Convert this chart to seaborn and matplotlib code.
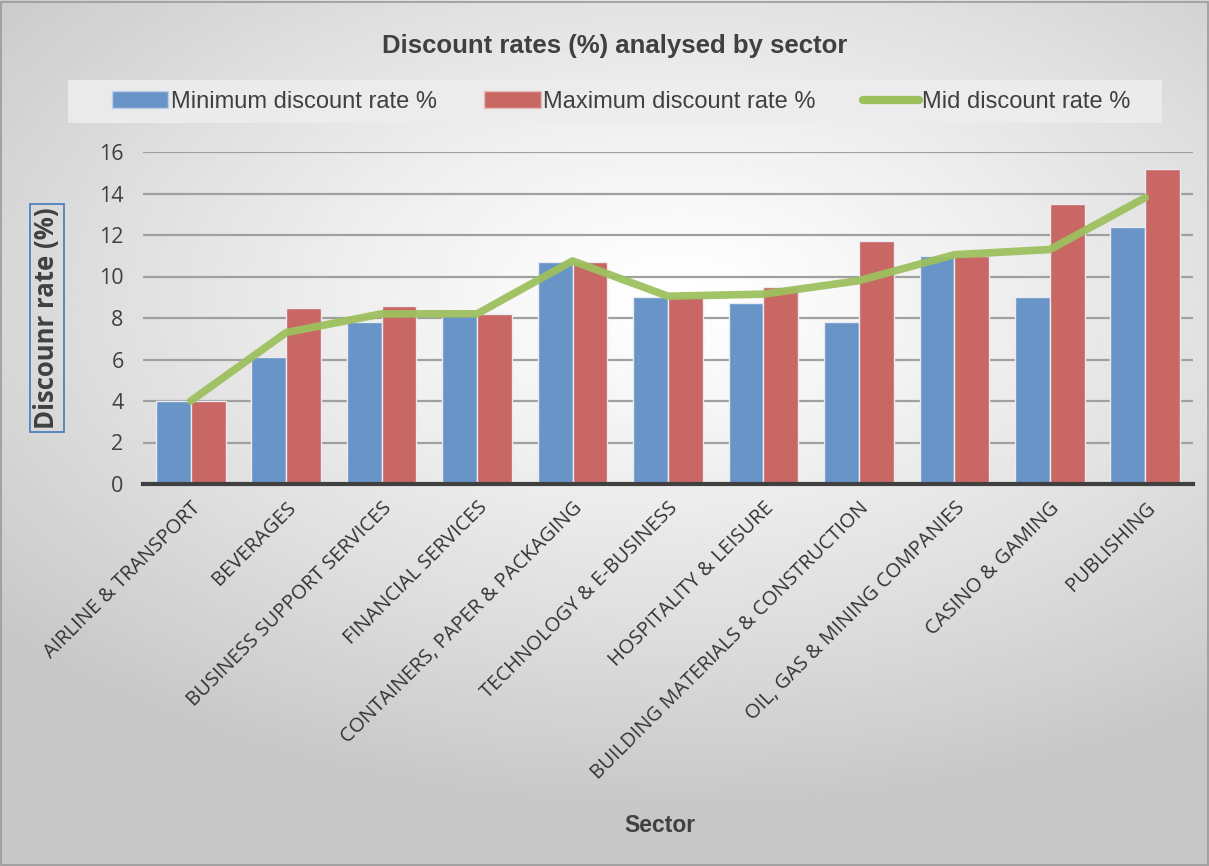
import numpy as np
import pandas as pd
import matplotlib
matplotlib.use('Agg')
import matplotlib.pyplot as plt
import matplotlib.patches as mpatches
import matplotlib.lines as mlines
import seaborn as sns

sectors = ['AIRLINE & TRANSPORT', 'BEVERAGES', 'BUSINESS SUPPORT SERVICES',
           'FINANCIAL SERVICES', 'CONTAINERS, PAPER & PACKAGING',
           'TECHNOLOGY & E-BUSINESS', 'HOSPITALITY & LEISURE',
           'BUILDING MATERIALS & CONSTRUCTION', 'OIL, GAS & MINING COMPANIES',
           'CASINO & GAMING', 'PUBLISHING']
min_rate = [4.0, 6.1, 7.8, 8.15, 10.7, 9.0, 8.7, 7.8, 11.0, 9.0, 12.4]
max_rate = [4.0, 8.5, 8.6, 8.2, 10.7, 9.0, 9.5, 11.7, 11.0, 13.5, 15.2]
mid_rate = [4.0, 7.3, 8.2, 8.2, 10.75, 9.05, 9.15, 9.8, 11.05, 11.3, 13.8]
series_names = ['Minimum discount rate %', 'Maximum discount rate %', 'Mid discount rate %']

blue = '#6894C7'
red = '#C86764'
green = '#9DC05E'

df = pd.DataFrame({
    'Sector': sectors * 2,
    'rate': min_rate + max_rate,
    'series': [series_names[0]] * len(sectors) + [series_names[1]] * len(sectors),
})

fig = plt.figure(figsize=(12.09, 8.66), dpi=100)

# radial grey background like the office chart style
bg = fig.add_axes([0, 0, 1, 1], zorder=-10)
yy, xx = np.mgrid[0:1:300j, 0:1:420j]
r = np.sqrt(((xx - 0.56) / 1.0) ** 2 + ((yy - 0.34) / 0.8) ** 2)
r = np.clip(r / 0.75, 0, 1)
bg.imshow(1 - 0.22 * r ** 1.2, cmap='gray', vmin=0, vmax=1, aspect='auto',
          extent=[0, 1, 1, 0], interpolation='bilinear')
bg.set_xlim(0, 1)
bg.set_ylim(1, 0)
bg.axis('off')
bg.add_patch(mpatches.Rectangle((0.001, 0.001), 0.998, 0.997, fill=False,
                                edgecolor='#9A9A9A', lw=1.2, transform=bg.transAxes))
# legend panel
bg.add_patch(mpatches.Rectangle((68 / 1209, 80 / 866), 1094 / 1209, 43 / 866,
                                facecolor='#EDEDED', edgecolor='none', alpha=0.9))

ax = fig.add_axes([143 / 1209, 1 - 484 / 866, 1050 / 1209, 332 / 866])
ax.patch.set_alpha(0)

sns.barplot(data=df, x='Sector', y='rate', hue='series', order=sectors,
            palette=[blue, red], saturation=1, width=0.73, edgecolor='#EAEAF2',
            linewidth=1.0, ax=ax, legend=False, zorder=3)
sns.pointplot(x=sectors, y=mid_rate, order=sectors, color=green, markers='',
              linewidth=5.5, ax=ax, zorder=5)
for l in ax.lines:
    l.set_alpha(0.95)
    l.set_solid_capstyle('round')

ax.set_ylim(0, 16)
ax.set_xlim(-0.5, len(sectors) - 0.5)
ax.set_yticks(range(0, 17, 2))
ax.yaxis.grid(True, color='#A0A0A0', lw=1.6, zorder=0)
ax.set_axisbelow(True)
for s in ['top', 'right', 'left']:
    ax.spines[s].set_visible(False)
ax.spines['bottom'].set_color('#404040')
ax.spines['bottom'].set_linewidth(3)
ax.spines['bottom'].set_zorder(6)
ax.tick_params(axis='both', length=0)
ax.tick_params(axis='y', labelsize=15.5, labelcolor='#404040', pad=14)
ax.set_xticks(range(len(sectors)))
ax.set_xticklabels(sectors, rotation=45, ha='right', rotation_mode='anchor',
                   fontsize=14.5, color='#333333', family='Open Sans')
ax.tick_params(axis='x', pad=10)
for t in ax.get_yticklabels():
    t.set_family('Open Sans')

ax.set_xlabel('')
ax.set_ylabel('')
fig.text(47 / 1209, 1 - 318 / 866, 'Discounr rate (%)', rotation=90, ha='center', va='center',
         fontsize=18.5, fontweight='bold', color='#404040', family='Open Sans',
         bbox=dict(boxstyle='square,pad=0.12', facecolor='none', edgecolor='#4F81BD', lw=1.3))
fig.text(660 / 1209, 1 - 826 / 866, 'Sector', ha='center', va='center',
         fontsize=16.5, fontweight='bold', color='#404040', family='Liberation Sans')
fig.text(615 / 1209, 1 - 46 / 866, 'Discount rates (%) analysed by sector', ha='center',
         va='center', fontsize=18.5, fontweight='bold', color='#404040', family='Liberation Sans')

handles = [mpatches.Patch(facecolor=blue, edgecolor='#BFD0E6', label=series_names[0]),
           mpatches.Patch(facecolor=red, edgecolor='#E6BFBE', label=series_names[1]),
           mlines.Line2D([], [], color=green, lw=6, solid_capstyle='round', label=series_names[2])]
leg = fig.legend(handles=handles, loc='center', bbox_to_anchor=(621 / 1209, 1 - 102 / 866),
                 ncol=3, frameon=False, handlelength=2.4,
                 handleheight=0.75, handletextpad=0.1, columnspacing=2.0,
                 prop={'family': 'Liberation Sans', 'size': 17}, borderpad=0.45,
                 borderaxespad=0)
for t in leg.get_texts():
    t.set_color('#404040')

fig.savefig('out.png', dpi=100)
